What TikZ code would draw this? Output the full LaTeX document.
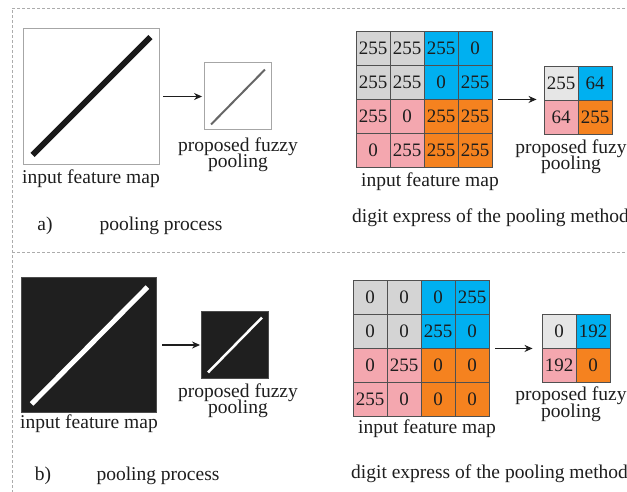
\documentclass[tikz,border=0pt]{standalone}
\usepackage{fontspec}
\setmainfont{Liberation Serif}
\usetikzlibrary{arrows.meta}
\definecolor{cgray}{HTML}{D4D4D4}
\definecolor{clight}{HTML}{E6E6E6}
\definecolor{cblue}{HTML}{00B0F0}
\definecolor{cpink}{HTML}{F4A7AF}
\definecolor{corange}{HTML}{F5821F}
\definecolor{gline}{HTML}{505050}
\definecolor{txt}{HTML}{1E1E1E}
\begin{document}
\begin{tikzpicture}[x=1pt,y=-1pt,
  every node/.style={text=txt},
  fnt/.style={font=\fontsize{19.5}{20}\selectfont},
  lbl/.style={fnt,inner sep=0pt,anchor=base},
  cell/.style={draw=gline,line width=0.9pt,minimum size=34pt,inner sep=0pt,font=\fontsize{19}{20}\selectfont},
  sqw/.style={draw=gray!70,line width=0.9pt,fill=white,inner sep=0pt},
  sqb/.style={draw=gray!60!black,line width=0.9pt,fill=black!88,inner sep=0pt},
  arr/.style={line width=1.1pt,draw=txt,-{Stealth[length=8pt,width=7pt]}},
  frame/.style={draw=gray!65,line width=1pt,dash pattern=on 3pt off 2pt}]
\useasboundingbox (0,0) rectangle (627,491);
\clip (0,0) rectangle (627,491);
\fill[white] (0,0) rectangle (627,491);
% frames
\coordinate (fTL) at (12,8);
\coordinate (fTR) at (640,8);
\coordinate (fML) at (12,252);
\coordinate (fMR) at (640,252);
\coordinate (fBL) at (12,500);
\draw[frame] (fTR) -- (fTL) -- (fBL);
\draw[frame] (fML) -- (fMR);

% ---------- panel a, images ----------
\node[sqw,minimum size=136pt] (bigA) at (91,96.5) {};
\draw[line width=6pt,black!90] ([shift={(10,-10)}]bigA.south west) -- ([shift={(-9,9)}]bigA.north east);
\node[sqw,minimum size=67pt] (smallA) at (238,95.5) {};
\draw[line width=2pt,black!60] ([shift={(7,-5)}]smallA.south west) -- ([shift={(-7,8)}]smallA.north east);
\draw[arr] ([xshift=4pt]bigA.east) -- ([xshift=-2pt]bigA.east -| smallA.west);
\node[lbl] (inA) at (91,183) {input feature map};
\node[lbl] (fzA1) at (238,151) {proposed fuzzy};
\node[lbl] (fzA2) at (238,167) {pooling};
\node[lbl] (labA) at (45,230) {a)};
\node[lbl] (ppA) at (161,230) {pooling process};

% ---------- panel a, digits ----------
\foreach \v [count=\i from 0] in {255,255,255,0, 255,255,0,255, 255,0,255,255, 0,255,255,255}{
  \pgfmathtruncatemacro\r{div(\i,4)}
  \pgfmathtruncatemacro\c{mod(\i,4)}
  \ifnum\r<2 \ifnum\c<2 \def\cc{cgray}\else\def\cc{cblue}\fi
  \else \ifnum\c<2 \def\cc{cpink}\else\def\cc{corange}\fi\fi
  \node[cell,fill=\cc] (ga-\r-\c) at ({356+34*\c+17},{31+34*\r+17}) {\v};
}
\foreach \v [count=\i from 0] in {255,64,64,255}{
  \pgfmathtruncatemacro\r{div(\i,2)}
  \pgfmathtruncatemacro\c{mod(\i,2)}
  \ifnum\r<1 \ifnum\c<1 \def\cc{clight}\else\def\cc{cblue}\fi
  \else \ifnum\c<1 \def\cc{cpink}\else\def\cc{corange}\fi\fi
  \node[cell,fill=\cc] (sa-\r-\c) at ({544+34*\c+17},{66+34*\r+17}) {\v};
}
\draw[arr] ([xshift=6pt]ga-1-3.south east) -- ([xshift=-7pt]ga-1-3.south east -| sa-0-0.west);
\node[lbl] (inGA) at (430,186) {input feature map};
\node[lbl] (fzGA1) at (571,153) {proposed fuzy};
\node[lbl] (fzGA2) at (571,169) {pooling};
\node[lbl,anchor=base west] (deA) at (352,222) {digit express of the pooling method};

% ---------- panel b, images ----------
\node[sqb,minimum size=135pt] (bigB) at (88.5,345) {};
\draw[line width=5pt,white] ([shift={(11,-9)}]bigB.south west) -- ([shift={(-9,10)}]bigB.north east);
\node[sqb,minimum size=67pt] (smallB) at (235,344.5) {};
\draw[line width=2.5pt,white] ([shift={(7,-6)}]smallB.south west) -- ([shift={(-7,7)}]smallB.north east);
\draw[arr] ([xshift=6pt]bigB.east) -- ([xshift=-1pt]bigB.east -| smallB.west);
\node[lbl] (inB) at (89,428) {input feature map};
\node[lbl] (fzB1) at (238,397) {proposed fuzzy};
\node[lbl] (fzB2) at (238,413) {pooling};
\node[lbl] (labB) at (43,480) {b)};
\node[lbl] (ppB) at (158,480) {pooling process};

% ---------- panel b, digits ----------
\foreach \v [count=\i from 0] in {0,0,0,255, 0,0,255,0, 0,255,0,0, 255,0,0,0}{
  \pgfmathtruncatemacro\r{div(\i,4)}
  \pgfmathtruncatemacro\c{mod(\i,4)}
  \ifnum\r<2 \ifnum\c<2 \def\cc{cgray}\else\def\cc{cblue}\fi
  \else \ifnum\c<2 \def\cc{cpink}\else\def\cc{corange}\fi\fi
  \node[cell,fill=\cc] (gb-\r-\c) at ({353+34*\c+17},{280+34*\r+17}) {\v};
}
\foreach \v [count=\i from 0] in {0,192,192,0}{
  \pgfmathtruncatemacro\r{div(\i,2)}
  \pgfmathtruncatemacro\c{mod(\i,2)}
  \ifnum\r<1 \ifnum\c<1 \def\cc{clight}\else\def\cc{cblue}\fi
  \else \ifnum\c<1 \def\cc{cpink}\else\def\cc{corange}\fi\fi
  \node[cell,fill=\cc] (sb-\r-\c) at ({542+34*\c+17},{314+34*\r+17}) {\v};
}
\draw[arr] ([xshift=6pt]gb-1-3.south east) -- ([xshift=-9pt]gb-1-3.south east -| sb-0-0.west);
\node[lbl] (inGB) at (427,433) {input feature map};
\node[lbl] (fzGB1) at (571,400) {proposed fuzy};
\node[lbl] (fzGB2) at (571,417) {pooling};
\node[lbl,anchor=base west] (deB) at (351,478) {digit express of the pooling method};
\end{tikzpicture}
\end{document}
